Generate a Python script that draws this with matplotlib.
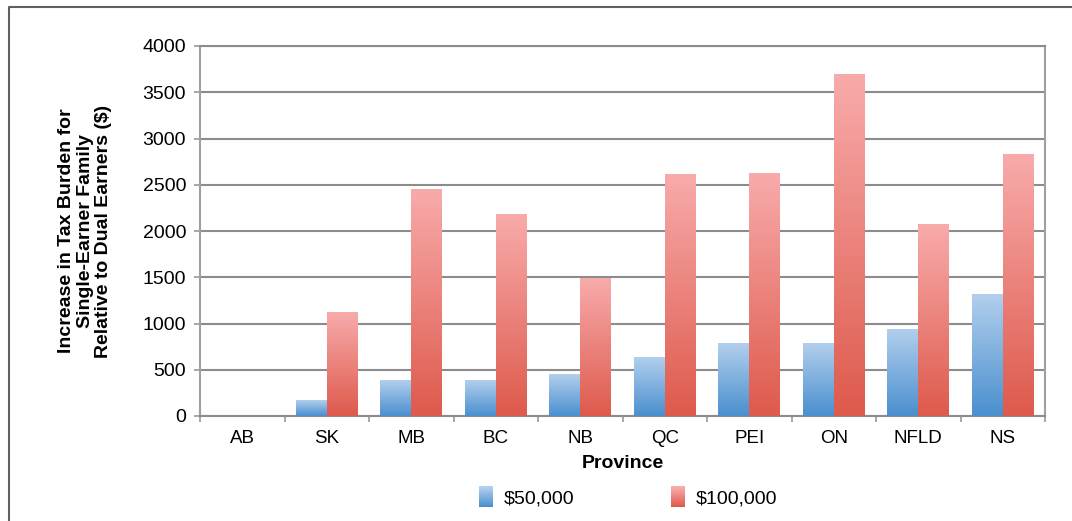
import numpy as np
import matplotlib
matplotlib.use('Agg')
import matplotlib.pyplot as plt
from matplotlib.colors import LinearSegmentedColormap
from matplotlib.patches import Rectangle
from matplotlib.lines import Line2D
from matplotlib.legend_handler import HandlerBase

provinces = ['AB', 'SK', 'MB', 'BC', 'NB', 'QC', 'PEI', 'ON', 'NFLD', 'NS']
income_50k = [0, 170, 385, 385, 450, 630, 780, 780, 935, 1310]
income_100k = [0, 1120, 2445, 2175, 1485, 2615, 2625, 3695, 2065, 2830]
series_labels = ['$50,000', '$100,000']
y_ticks = [0, 500, 1000, 1500, 2000, 2500, 3000, 3500, 4000]

blue_cmap = LinearSegmentedColormap.from_list('blue', ['#4a8fcf', '#b2cfed'])
red_cmap = LinearSegmentedColormap.from_list('red', ['#de5a4c', '#f8abab'])

plt.rcParams['font.family'] = ['Liberation Sans', 'DejaVu Sans']

fig = plt.figure(figsize=(10.72, 5.21), dpi=100)
ax = fig.add_axes([200 / 1072, 1 - 416 / 521, 845 / 1072, 370 / 521])

x = np.arange(len(provinces))
w = 0.365
bars_a = ax.bar(x - w / 2, income_50k, w, color='none', zorder=3)
bars_b = ax.bar(x + w / 2, income_100k, w, color='none', zorder=3)

# vertical gradient inside each bar
grad = np.linspace(0, 1, 256).reshape(-1, 1)
for bars, cmap in ((bars_a, blue_cmap), (bars_b, red_cmap)):
    for b in bars:
        h = b.get_height()
        if h <= 0:
            continue
        ax.imshow(grad, cmap=cmap, origin='lower', aspect='auto',
                  extent=[b.get_x(), b.get_x() + b.get_width(), 0, h],
                  interpolation='bicubic', zorder=3)

ax.set_xlim(-0.5, len(provinces) - 0.5)
ax.set_ylim(0, 4000)
ax.set_yticks(y_ticks)
ax.set_xticks(x)
ax.set_xticklabels(provinces)
ax.set_xticks(np.arange(len(provinces) + 1) - 0.5, minor=True)
ax.tick_params(axis='x', which='major', length=0, pad=10, labelsize=13.5)
ax.tick_params(axis='x', which='minor', length=4, color='#999999', width=1.2)
ax.tick_params(axis='y', length=4, color='#999999', width=1.2, pad=6, labelsize=14)
ax.yaxis.grid(True, color='#8c8c8c', linewidth=1.5, zorder=0)
ax.set_axisbelow(True)
for side in ('left', 'right', 'top', 'bottom'):
    ax.spines[side].set_color('#a0a0a0')
    ax.spines[side].set_linewidth(1.5)
ax.spines['bottom'].set_color('#8c8c8c')
ax.spines['top'].set_color('#8c8c8c')

ax.set_xlabel('Province', fontsize=14, fontweight='bold', labelpad=6)
ax.set_ylabel('Increase in Tax Burden for\nSingle-Earner Family\nRelative to Dual Earners ($)',
              fontsize=14, fontweight='bold', labelpad=22, linespacing=1.1)


class GradientHandler(HandlerBase):
    def __init__(self, cmap):
        super().__init__()
        self.cmap = cmap

    def create_artists(self, legend, orig_handle, xdescent, ydescent,
                       width, height, fontsize, trans):
        n = 20
        arts = []
        for i in range(n):
            r = Rectangle((-xdescent, -ydescent + height * i / n),
                          width, height / n + 0.3,
                          facecolor=self.cmap(i / (n - 1)), edgecolor='none',
                          transform=trans)
            arts.append(r)
        return arts


h_a = Rectangle((0, 0), 1, 1)
h_b = Rectangle((0, 0), 1, 1)
fig.legend([h_a, h_b], series_labels, loc='center',
           bbox_to_anchor=(628 / 1072, 1 - 497 / 521), ncol=2, frameon=False,
           fontsize=14, handlelength=0.7, handleheight=1.25, handletextpad=0.55,
           columnspacing=5.0,
           handler_map={h_a: GradientHandler(blue_cmap), h_b: GradientHandler(red_cmap)})

# outer frame (left and top edges)
fig.add_artist(Line2D([9 / 1072, 9 / 1072, 1], [0, 1 - 7 / 521, 1 - 7 / 521],
                      transform=fig.transFigure, color='#606060', linewidth=1.5))

fig.savefig('out.png', dpi=100)
